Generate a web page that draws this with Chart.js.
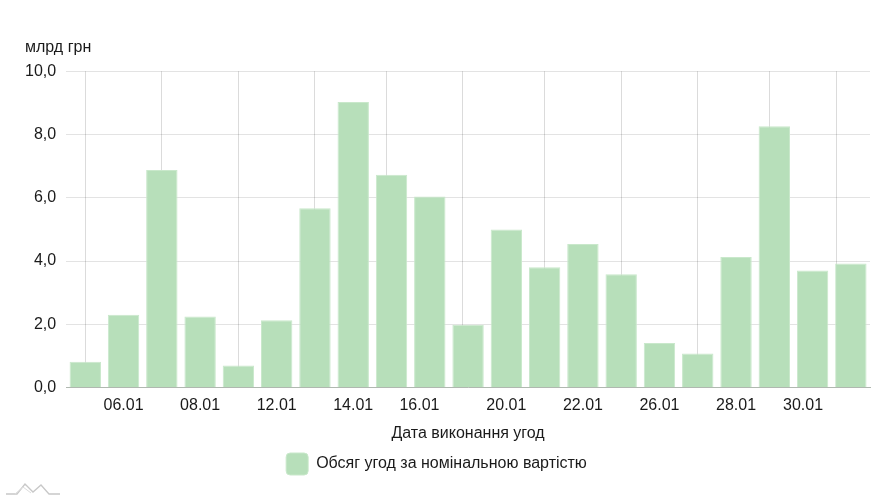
<!DOCTYPE html>
<html>
<head>
<meta charset="utf-8">
<script src="https://cdn.jsdelivr.net/npm/chart.js@4/dist/chart.umd.min.js"></script>
<style>
  html, body { margin: 0; padding: 0; background: #fff; }
  #wrap { position: relative; width: 891px; height: 500px; }
  #logo { position: absolute; left: 5px; top: 480px; }
</style>
</head>
<body>
<div id="wrap">
  <canvas id="c" width="891" height="500"></canvas>
  <svg id="logo" width="56" height="16" viewBox="0 0 56 16">
    <polyline points="1,14 12,14 20,4 28,12 36,5 44,14 55,14" fill="none" stroke="#c8c8c8" stroke-width="1.3"/>
    <polyline points="10,14 18,7 26,13" fill="none" stroke="#dcdcdc" stroke-width="1"/>
  </svg>
</div>
<script>
// ---- data ----
const barIndex = [0,1,2,3,4,5,6,7,8,9,10,11,12,13,14,15,16,17,18,19,20];
const volumes = [0.82, 2.30, 6.88, 2.25, 0.70, 2.13, 5.67, 9.03, 6.73, 6.04, 1.99,
                 5.00, 3.80, 4.54, 3.58, 1.41, 1.08, 4.13, 8.26, 3.70, 3.92];
const dateTickPositions = [1, 3, 5, 7, 8.73, 11, 13, 15, 17, 18.75];
const dateTickLabels = ['06.01','08.01','12.01','14.01','16.01','20.01','22.01','26.01','28.01','30.01'];
const seriesLabel = 'Обсяг угод за номінальною вартістю';
const yUnit = 'млрд грн';
const xTitle = 'Дата виконання угод';

const FONT = "'Liberation Sans', Arial, sans-serif";
Chart.defaults.font.family = FONT;
Chart.defaults.font.size = 16;
Chart.defaults.color = '#1a1a1a';

const blockShift = {
  id: 'blockShift',
  afterLayout(chart) {
    const lg = chart.legend;
    if (lg) { lg.left -= 6; lg.right -= 6; }
    const tb = chart.titleBlock;
    if (tb) { tb.left += 10; tb.right += 10; }
  }
};

new Chart(document.getElementById('c'), {
  type: 'bar',
  plugins: [blockShift],
  data: {
    datasets: [{
      label: seriesLabel,
      data: barIndex.map((x, i) => ({ x: x, y: volumes[i] })),
      backgroundColor: '#b7dfba',
      borderColor: '#c9e8cb',
      borderWidth: 1,
      categoryPercentage: 1,
      barPercentage: 0.82
    }]
  },
  options: {
    responsive: false,
    animation: false,
    layout: { padding: { left: 15, right: 21, top: 38, bottom: 15 } },
    plugins: {
      title: {
        display: true,
        text: yUnit,
        align: 'start',
        font: { size: 16, weight: 'normal' },
        color: '#1a1a1a',
        padding: { top: 0, bottom: 14 }
      },
      legend: {
        position: 'bottom',
        labels: {
          boxWidth: 22,
          boxHeight: 22,
          useBorderRadius: true,
          borderRadius: 4,
          padding: 10,
          font: { size: 16 },
          color: '#1a1a1a'
        }
      },
      tooltip: { enabled: false }
    },
    scales: {
      x: {
        type: 'linear',
        min: -0.5,
        max: 20.5,
        offset: false,
        afterBuildTicks: (scale) => {
          scale.ticks = dateTickPositions.map(v => ({ value: v }));
        },
        ticks: {
          autoSkip: false,
          maxRotation: 0,
          padding: 8,
          color: '#1a1a1a',
          font: { size: 16 },
          callback: (value, index) => dateTickLabels[index]
        },
        grid: { color: 'rgba(0,0,0,0.14)', drawTicks: false },
        border: { display: true, color: '#b0b8b0' },
        title: {
          display: true,
          text: xTitle,
          color: '#1a1a1a',
          font: { size: 16 },
          padding: { top: 1, bottom: 0 }
        }
      },
      y: {
        min: 0,
        max: 10,
        ticks: {
          stepSize: 2,
          padding: 10,
          color: '#1a1a1a',
          font: { size: 16 },
          callback: (v) => v.toFixed(1).replace('.', ',')
        },
        grid: { color: 'rgba(0,0,0,0.11)', drawTicks: false },
        border: { display: false }
      }
    }
  }
});
</script>
</body>
</html>
